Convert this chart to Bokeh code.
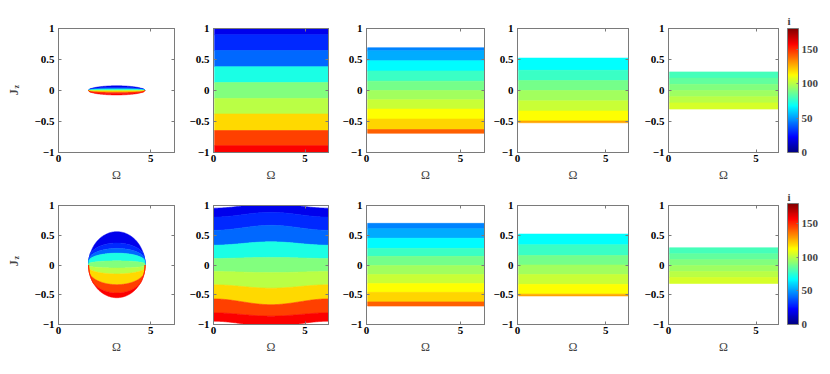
import math
import numpy as np
from bokeh.plotting import figure
from bokeh.models import (Range1d, FixedTicker, LinearAxis, LinearColorMapper,
                          ColorBar, Label, ColumnDataSource)
from bokeh.transform import transform
from bokeh.layouts import row, column
from bokeh.embed import file_html
from bokeh.resources import INLINE

# ---------------- data ----------------
OMEGA_MAX = 2 * math.pi
OMEGA_START = 0.06
I_LOW, I_HIGH = 0, 180
X_TICKS = [0, 5]
Y_TICKS = [-1, -0.5, 0, 0.5, 1]
Y_TICK_LABELS = ["\u22121", "\u22120.5", "0", "0.5", "1"]
CB_TICKS = [0, 50, 100, 150]

# row 1, panel 1: thin closed region around (pi, 0); boundaries at centre / at the tips
r1p1_center = 3.15
r1p1_half_width = 1.52
r1p1_mid = [0.076, 0.05, 0.038, 0.025, 0.01, 0.0, -0.01, -0.028, -0.05, -0.072]
r1p1_edge = [0.0, 0.012, 0.009, 0.006, 0.002, 0.0, -0.002, -0.006, -0.012, 0.0]
r1p1_i = [19, 30, 41, 72, 90, 100, 119, 146, 158]

# row 1, panels 2-5: horizontal bands (edges from top to bottom)
r1p2_edges = [1.0, 0.90, 0.645, 0.384, 0.128, -0.128, -0.379, -0.646, -0.89, -1.0]
r1p2_i = [19, 30, 41, 72, 90, 100, 119, 146, 158]
r1p3_edges = [0.69, 0.64, 0.48, 0.315, 0.15, 0.0, -0.15, -0.30, -0.46, -0.63, -0.69]
r1p3_i = [46, 53, 67, 78, 88, 96, 103, 112, 120, 140]
r1p4_edges = [0.523, 0.326, 0.16, 0.0, -0.167, -0.33, -0.49, -0.52]
r1p4_i = [68, 78, 88, 96, 103, 112, 128]
r1p5_edges = [0.30, 0.20, 0.10, 0.0, -0.10, -0.20, -0.30]
r1p5_i = [80, 85, 90, 95, 100, 105]

# row 2, panel 1: closed region around (pi, 0)
r2p1_center = 3.16
r2p1_half_width = 1.53
r2p1_mid = [0.56, 0.37, 0.28, 0.20, 0.07, -0.05, -0.15, -0.33, -0.47, -0.55]
r2p1_edge = [0.0, 0.10, 0.08, 0.06, 0.02, -0.01, -0.04, -0.08, -0.10, 0.0]
r2p1_i = [19, 30, 41, 72, 90, 100, 119, 146, 158]

# row 2, panel 2: curved bands, boundary level at Omega=0/2pi (edge) and at Omega=pi (mid)
r2p2_edge = [0.955, 0.805, 0.583, 0.333, 0.11, -0.11, -0.333, -0.57, -0.805, -0.945]
r2p2_mid = [1.03, 0.885, 0.667, 0.39, 0.128, -0.128, -0.39, -0.667, -0.86, -1.03]
r2p2_i = [19, 30, 41, 72, 90, 100, 119, 146, 158]

# row 2, panels 3-5
r2p3_edges = [0.70, 0.61, 0.45, 0.28, 0.145, -0.01, -0.16, -0.31, -0.46, -0.62, -0.69]
r2p3_i = [46, 53, 67, 78, 88, 96, 103, 112, 120, 140]
r2p4_edges = [0.52, 0.34, 0.16, 0.0, -0.16, -0.325, -0.49, -0.52]
r2p4_i = [68, 78, 88, 96, 103, 112, 128]
r2p5_edges = [0.29, 0.19, 0.09, -0.01, -0.11, -0.21, -0.31]
r2p5_i = [80, 85, 90, 95, 100, 105]

# ---------------- style ----------------
SERIF = "Liberation Serif"
FRAME = "#7a7a7a"


def jet(n=256):
    out = []
    for k in range(n):
        f = k / (n - 1)
        r = min(max(1.5 - abs(4 * f - 3), 0), 1)
        g = min(max(1.5 - abs(4 * f - 2), 0), 1)
        b = min(max(1.5 - abs(4 * f - 1), 0), 1)
        out.append("#%02x%02x%02x" % (round(r * 255), round(g * 255), round(b * 255)))
    return out


MAPPER = LinearColorMapper(palette=jet(), low=I_LOW, high=I_HIGH)

# (left border, frame width, right border) per column; (top, frame height, bottom) per row
LABEL_W = 20
COLS = [(38, 116, 5), (34, 115, 5), (33, 118, 5), (28, 111, 5), (35, 110, 44)]
ROWS = [(28, 124, 33), (20, 121, 30)]
JZ_POS = [((13, 90), (15.5, 98)), ((13, 88), (15.5, 96))]   # (J, z) centres in px
I_STANDOFF = [4, 6]


def style_axis(ax, ticks, show=True):
    ax.ticker = FixedTicker(ticks=ticks)
    ax.axis_line_color = FRAME
    ax.major_tick_line_color = FRAME
    ax.major_tick_in = 3
    ax.major_tick_out = 0
    ax.minor_tick_line_color = None
    if show:
        ax.major_label_text_font = SERIF
        ax.major_label_text_font_style = "bold"
        ax.major_label_text_font_size = "11px"
        ax.major_label_text_color = "black"
    else:
        ax.major_label_text_font_size = "0px"
        ax.major_label_text_alpha = 0
        ax.major_label_standoff = 0


def make_panel(col, rw):
    l, fw, r = COLS[col]
    t, fh, b = ROWS[rw]
    p = figure(width=l + fw + r, height=t + fh + b,
               x_range=Range1d(0, OMEGA_MAX), y_range=Range1d(-1, 1),
               output_backend="svg", toolbar_location=None, tools="",
               min_border_left=l, min_border_right=r,
               min_border_top=t, min_border_bottom=b)
    p.grid.visible = False
    p.outline_line_color = FRAME
    p.background_fill_color = "white"
    style_axis(p.xaxis[0], X_TICKS)
    style_axis(p.yaxis[0], Y_TICKS)
    p.xaxis.major_label_standoff = 2
    p.yaxis.major_label_standoff = 4
    p.yaxis.major_label_overrides = dict(zip(Y_TICKS, Y_TICK_LABELS))
    p.xaxis.axis_label = "\u03a9"
    p.xaxis.axis_label_text_font = SERIF
    p.xaxis.axis_label_text_font_style = "normal"
    p.xaxis.axis_label_text_font_size = "12px"
    p.xaxis.axis_label_standoff = 3
    top = LinearAxis()
    style_axis(top, X_TICKS, show=False)
    p.add_layout(top, "above")
    right = LinearAxis()
    style_axis(right, Y_TICKS, show=False)
    p.add_layout(right, "right")
    return p


def blank_fig(w, h):
    p = figure(width=w, height=h, x_range=Range1d(0, w), y_range=Range1d(0, h),
               output_backend="svg", toolbar_location=None, tools="",
               x_axis_type=None, y_axis_type=None, min_border=0)
    p.grid.visible = False
    p.outline_line_color = None
    return p


def quad_bands(p, edges, ivals):
    src = ColumnDataSource(dict(top=edges[:-1], bottom=edges[1:], i=ivals))
    p.quad(left=OMEGA_START, right=OMEGA_MAX, top="top", bottom="bottom", source=src,
           fill_color=transform("i", MAPPER), line_color=transform("i", MAPPER),
           line_width=0.6)


def disc_bands(p, cx, rx, mid, edge, ivals):
    xs = cx + rx * np.cos(np.linspace(math.pi, 0, 160))
    s = np.sqrt(np.clip(1 - ((xs - cx) / rx) ** 2, 0, 1))
    dtop = mid[0] * s
    dbot = mid[-1] * s
    curves = [e + (m - e) * s for m, e in zip(mid, edge)]
    pxs, pys = [], []
    for k in range(len(ivals)):
        top = np.clip(curves[k], dbot, dtop)
        bot = np.clip(curves[k + 1], dbot, dtop)
        top = np.maximum(top, bot)
        pxs.append(np.concatenate([xs, xs[::-1]]).tolist())
        pys.append(np.concatenate([top, bot[::-1]]).tolist())
    src = ColumnDataSource(dict(xs=pxs, ys=pys, i=ivals))
    p.patches("xs", "ys", source=src, fill_color=transform("i", MAPPER),
              line_color=transform("i", MAPPER), line_width=0.5)


def wave_bands(p, edge, mid, ivals):
    xs = np.linspace(0, OMEGA_MAX, 120)
    w = (1 - np.cos(xs)) / 2
    curves = [e + (m - e) * w for m, e in zip(mid, edge)]
    pxs, pys = [], []
    for k in range(len(ivals)):
        pxs.append(np.concatenate([xs, xs[::-1]]).tolist())
        pys.append(np.concatenate([curves[k], curves[k + 1][::-1]]).tolist())
    src = ColumnDataSource(dict(xs=pxs, ys=pys, i=ivals))
    p.patches("xs", "ys", source=src, fill_color=transform("i", MAPPER),
              line_color=transform("i", MAPPER), line_width=0.6)


def jz_fig(rw):
    t, fh, b = ROWS[rw]
    p = blank_fig(LABEL_W, t + fh + b)
    (jx, jy), (zx, zy) = JZ_POS[rw]
    p.add_layout(Label(x=jx, y=jy, text="J", angle=math.pi / 2,
                       text_font=SERIF, text_font_style="bold", text_font_size="12px",
                       text_align="center", text_baseline="middle"))
    p.add_layout(Label(x=zx, y=zy, text="z", angle=math.pi / 2,
                       text_font=SERIF, text_font_style="bold", text_font_size="8px",
                       text_align="center", text_baseline="middle"))
    return p


def add_colorbar(p, rw):
    fh = ROWS[rw][1]
    cb = ColorBar(color_mapper=MAPPER, ticker=FixedTicker(ticks=CB_TICKS),
                  width=11, height=fh, location=(9, 0), padding=0, margin=0,
                  major_label_text_font=SERIF, major_label_text_font_style="bold",
                  major_label_text_font_size="11px", label_standoff=3,
                  major_tick_line_color=FRAME, major_tick_in=2, major_tick_out=0,
                  bar_line_color=FRAME, border_line_color=None,
                  background_fill_color=None)
    p.add_layout(cb, "right")
    # colour-bar caption, set as the panel title, pushed right over the bar
    p.title.text = "i"
    p.title.align = "right"
    p.title.offset = -12
    p.title.standoff = I_STANDOFF[rw]
    p.title.text_font = SERIF
    p.title.text_font_style = "bold"
    p.title.text_font_size = "11px"


rows = []
for rw in range(2):
    panels = [make_panel(c, rw) for c in range(5)]
    rows.append(panels)

p = rows[0]
disc_bands(p[0], r1p1_center, r1p1_half_width, r1p1_mid, r1p1_edge, r1p1_i)
quad_bands(p[1], r1p2_edges, r1p2_i)
quad_bands(p[2], r1p3_edges, r1p3_i)
quad_bands(p[3], r1p4_edges, r1p4_i)
quad_bands(p[4], r1p5_edges, r1p5_i)
add_colorbar(p[4], 0)

p = rows[1]
disc_bands(p[0], r2p1_center, r2p1_half_width, r2p1_mid, r2p1_edge, r2p1_i)
wave_bands(p[1], r2p2_edge, r2p2_mid, r2p2_i)
quad_bands(p[2], r2p3_edges, r2p3_i)
quad_bands(p[3], r2p4_edges, r2p4_i)
quad_bands(p[4], r2p5_edges, r2p5_i)
add_colorbar(p[4], 1)

layout = column(
    row(jz_fig(0), *rows[0]),
    row(jz_fig(1), *rows[1]),
)
open("out.html", "w").write(file_html(layout, INLINE))
